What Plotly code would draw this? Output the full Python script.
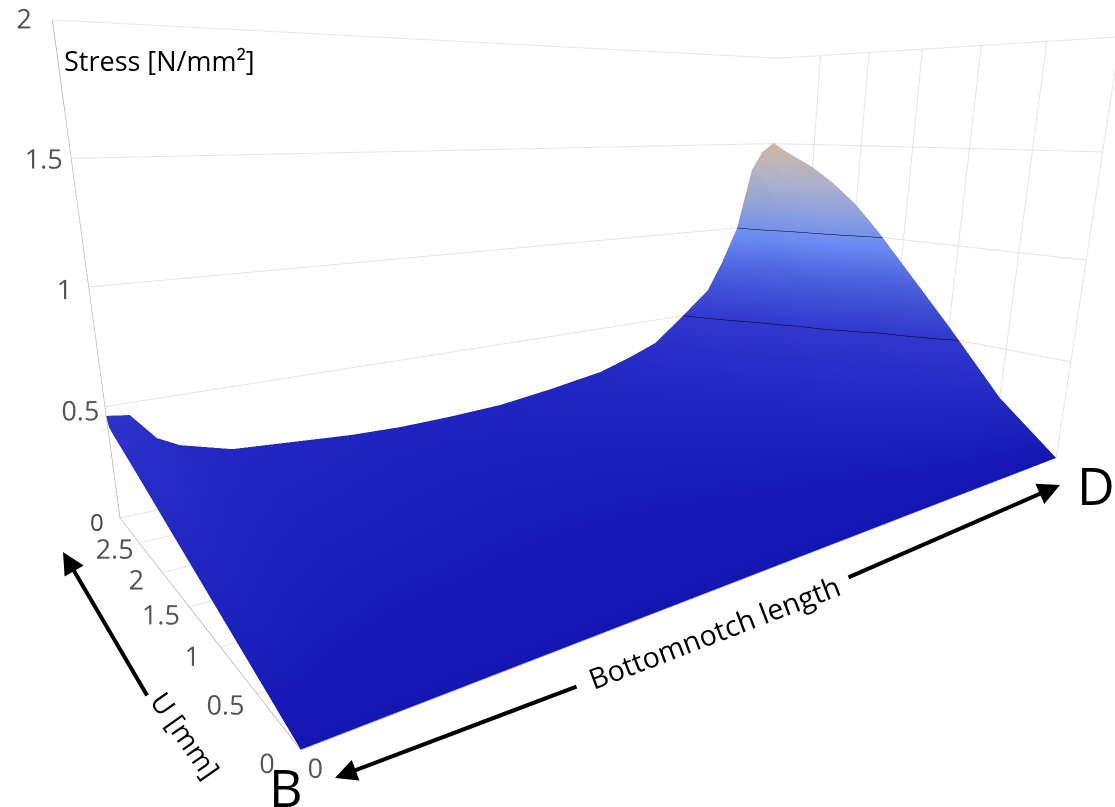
import plotly.graph_objects as go

W, H = 1115, 807
x_vals = [0, .023, .047, .07, .126, .206, .27, .337, .41, .487, .57, .66, .715, .765, .82, .871, .899, .928, .954, .975, 1]
y_vals = [0, 0.5, 1.0, 1.5, 1.75, 2.0, 2.25, 2.5, 2.8, 2.93, 2.97]
z_y000 = [0] * 21
z_y050 = [.071, .069, .055, .046, .036, .032, .028, .027, .027, .028, .034, .042, .05, .061, .083, .105, .12, .14, .17, .2, .24]
z_y100 = [.142, .137, .11, .093, .071, .063, .056, .053, .053, .056, .067, .083, .10, .122, .165, .21, .24, .29, .35, .43, .565]
z_y150 = [.213, .206, .165, .139, .107, .094, .084, .079, .08, .084, .101, .124, .152, .182, .25, .32, .37, .43, .52, .66, .875]
z_y175 = [.248, .24, .192, .162, .125, .11, .098, .092, .093, .098, .118, .145, .177, .212, .292, .37, .43, .53, .67, .815, 1.03]
z_y200 = [.284, .275, .22, .185, .142, .125, .112, .105, .106, .112, .135, .165, .202, .243, .335, .42, .49, .63, .82, .97, 1.17]
z_y225 = [.32, .308, .248, .209, .16, .141, .126, .118, .12, .127, .152, .186, .228, .273, .378, .475, .56, .705, .91, 1.085, 1.28]
z_y250 = [.355, .34, .275, .232, .178, .157, .14, .131, .133, .141, .168, .206, .253, .303, .42, .53, .63, .78, 1.0, 1.2, 1.37]
z_y280 = [.395, .375, .30, .26, .2, .175, .157, .147, .149, .157, .189, .231, .283, .34, .472, .60, .754, .943, 1.27, 1.37, 1.45]
z_y293 = [.415, .40, .312, .268, .208, .183, .163, .154, .156, .165, .197, .241, .296, .354, .492, .627, .785, .98, 1.33, 1.435, 1.49]
z_y297 = [.46, .447, .326, .275, .211, .186, .166, .156, .158, .167, .20, .245, .30, .36, .5, .637, .8, 1.0, 1.346, 1.451, 1.505]
z_rows = [z_y000, z_y050, z_y100, z_y150, z_y175, z_y200, z_y225, z_y250, z_y280, z_y293, z_y297]

y_ticks = [0, 0.5, 1, 1.5, 2, 2.5]
y_labels = ["0", "0.5", "1", "1.5", "2", "2.5"]
z_ticks = [0, 0.5, 1, 1.5, 2]
z_labels = ["", "0.5", "1", "1.5", "2"]

colors = [[0, "#1416b2"], [.07, "#1c20bc"], [.167, "#2429c4"], [.333, "#3238cf"], [.5, "#4c62df"], [.633, "#6b8cf8"],
          [.72, "#8aa0e6"], [.85, "#aeb3cf"], [1, "#cfb6a3"]]

fig = go.Figure(go.Surface(
    x=x_vals, y=y_vals, z=z_rows, colorscale=colors, cmin=0, cmax=1.5, showscale=False,
    lighting=dict(ambient=0.95, diffuse=0.1, specular=0, roughness=1, fresnel=0),
    contours=dict(z=dict(show=True, start=0.5, end=1.5, size=0.5, color="#000000", width=5)),
))
axis = dict(showbackground=False, gridcolor="#e4e4e4", zeroline=False, showspikes=False, title="",
            tickfont=dict(family="Open Sans", size=18, color="#555555"), showline=True, linecolor="#999999", tickangle=0)


def note(text, px, py, size, angle=0, color="#000000"):
    return dict(text=text, xref="paper", yref="paper", x=px / W, y=1 - py / H, showarrow=False, textangle=angle,
                font=dict(family="Open Sans", size=size, color=color), xanchor="center", yanchor="middle")


def arrow(px0, py0, px1, py1):
    return dict(text="", xref="paper", yref="paper", x=px1 / W, y=1 - py1 / H, ax=px0 - px1, ay=py0 - py1,
                showarrow=True, arrowhead=2, arrowsize=1.1, arrowwidth=4, arrowcolor="#000000")


fig.update_layout(
    width=W, height=H, margin=dict(l=0, r=0, t=0, b=0), paper_bgcolor="white",
    font=dict(family="Open Sans"),
    scene=dict(
        domain=dict(x=[0, 1], y=[0, 1]),
        xaxis=dict(axis, range=[0, 1], tickvals=[0], ticktext=["0"]),
        yaxis=dict(axis, range=[0, 2.97], tickvals=y_ticks, ticktext=y_labels),
        zaxis=dict(axis, range=[0, 2], tickvals=z_ticks, ticktext=z_labels),
        aspectmode="manual", aspectratio=dict(x=1.5909, y=0.7907, z=0.7949),
        camera=dict(eye=dict(x=-1.1099, y=-1.2882, z=0.2566), center=dict(x=-0.1777, y=-0.0251, z=-0.2017),
                    up=dict(x=0.0082, y=0.0197, z=1)),
    ),
    annotations=[
        note("Stress [N/mm²]", 159, 60, 27),
        note("0", 97, 521, 24, color="#444444"),
        note("U [mm]", 186, 735, 28, 55),
        note("Bottomnotch length", 714, 632, 28.5, -21),
        note("B", 286, 786, 52),
        note("D", 1096, 484, 52),
        arrow(148, 697, 63, 552),
        arrow(578, 686, 335, 778),
        arrow(847, 578, 1060, 485),
    ],
)
fig.write_html("out.html", config=dict(displayModeBar=False),
               post_script="document.body.style.margin='0';document.documentElement.style.overflow='hidden';")
